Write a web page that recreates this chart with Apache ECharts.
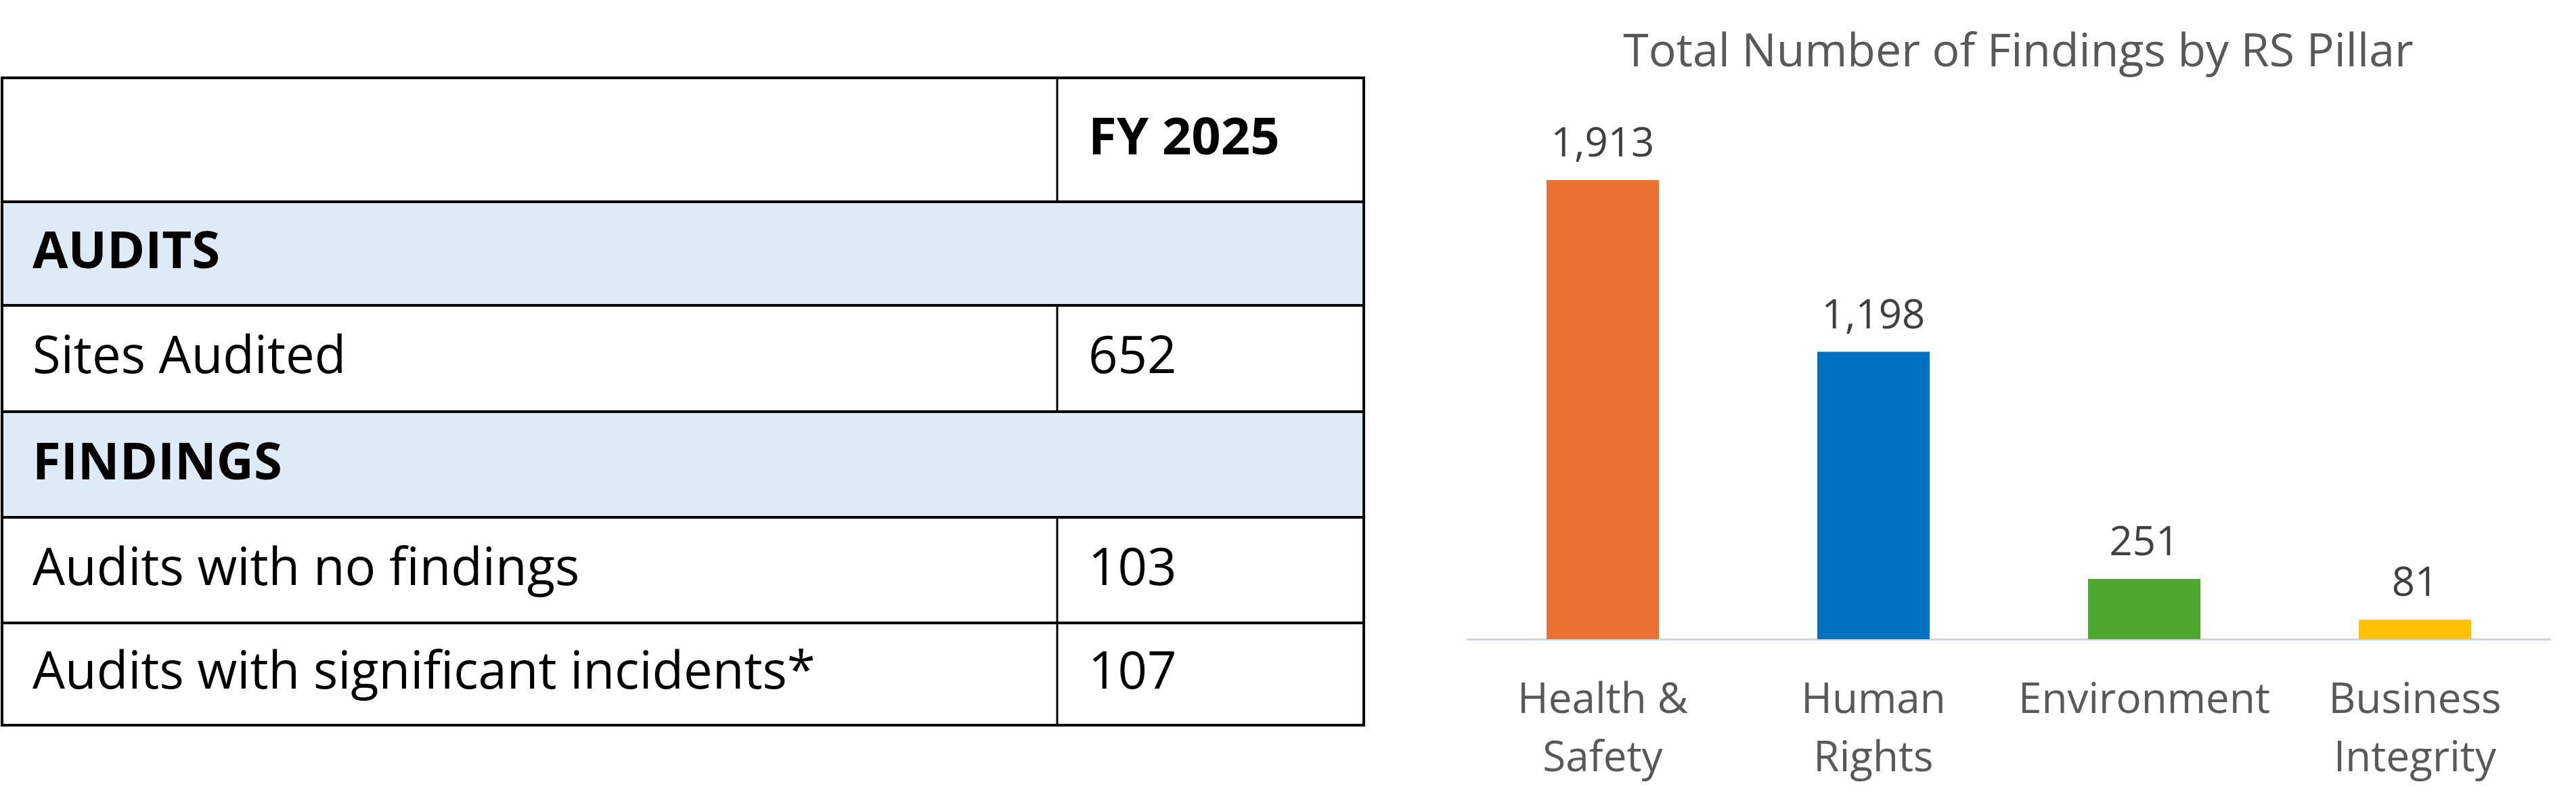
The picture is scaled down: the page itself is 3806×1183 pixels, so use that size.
<!DOCTYPE html>
<html><head><meta charset="utf-8">
<script src="https://cdn.jsdelivr.net/npm/echarts@6/dist/echarts.min.js"></script>
<style>html,body{margin:0;padding:0;background:#fff}#c{width:3806px;height:1183px}</style>
</head><body><div id="c"></div>
<script>
var pillars = ['Health &\nSafety', 'Human\nRights', 'Environment', 'Business\nIntegrity']
var findings = [1913, 1198, 251, 81]
var barColors = ['#e97132', '#0070c0', '#4ea72e', '#ffc000']
var tableRows = [
  { label: '', value: 'FY 2025', kind: 'head' },
  { label: 'AUDITS', value: '', kind: 'section' },
  { label: 'Sites Audited', value: '652', kind: 'row' },
  { label: 'FINDINGS', value: '', kind: 'section' },
  { label: 'Audits with no findings', value: '103', kind: 'row' },
  { label: 'Audits with significant incidents*', value: '107', kind: 'row' }
]
var rowEdges = [115, 298, 451, 608, 764, 920, 1071]

var font = '"Open Sans", "Noto Sans", sans-serif'
var tblLeft = 3, tblRight = 2015, colX = 1562
var graphic = []
tableRows.forEach(function (r, i) {
  var y0 = rowEdges[i], y1 = rowEdges[i + 1]
  graphic.push({
    type: 'rect',
    shape: { x: tblLeft, y: y0, width: tblRight - tblLeft, height: y1 - y0 },
    style: { fill: r.kind === 'section' ? '#deebf7' : '#fff', stroke: '#000', lineWidth: 4 }
  })
  if (r.kind !== 'section') {
    graphic.push({ type: 'line', shape: { x1: colX, y1: y0, x2: colX, y2: y1 }, style: { stroke: '#000', lineWidth: 3 } })
  }
  var bold = r.kind !== 'row'
  if (r.label) graphic.push({
    type: 'text', x: 48, y: (y0 + y1) / 2,
    style: { text: r.label, font: (bold ? 'bold ' : '') + '76px ' + font, fill: '#000', verticalAlign: 'middle' }
  })
  if (r.value) graphic.push({
    type: 'text', x: colX + 46, y: (y0 + y1) / 2,
    style: { text: r.value, font: (bold ? 'bold ' : '') + '76px ' + font, fill: '#000', verticalAlign: 'middle' }
  })
})

var chart = echarts.init(document.getElementById('c'))
chart.setOption({
  animation: false,
  title: {
    text: 'Total Number of Findings by RS Pillar', left: 2977, top: 40, textAlign: 'center',
    textStyle: { fontFamily: font, fontWeight: 'normal', fontSize: 68, color: '#595959' }
  },
  grid: { left: 2168, right: 38, top: 266, bottom: 239 },
  xAxis: {
    type: 'category', data: pillars,
    axisLine: { lineStyle: { color: '#d0d4dc', width: 3 } },
    axisTick: { show: false },
    axisLabel: { interval: 0, fontFamily: font, fontSize: 62, color: '#595959', margin: 48, lineHeight: 86 }
  },
  yAxis: { type: 'value', min: 0, max: 1913, show: false, splitLine: { show: false } },
  series: [{
    type: 'bar', barWidth: 166,
    data: findings.map(function (v, i) { return { value: v, itemStyle: { color: barColors[i] } } }),
    label: {
      show: true, position: 'top', distance: 22, fontFamily: font, fontSize: 60, color: '#404040',
      formatter: function (p) { return p.value.toLocaleString('en-US') }
    }
  }],
  graphic: graphic
})
</script></body></html>
